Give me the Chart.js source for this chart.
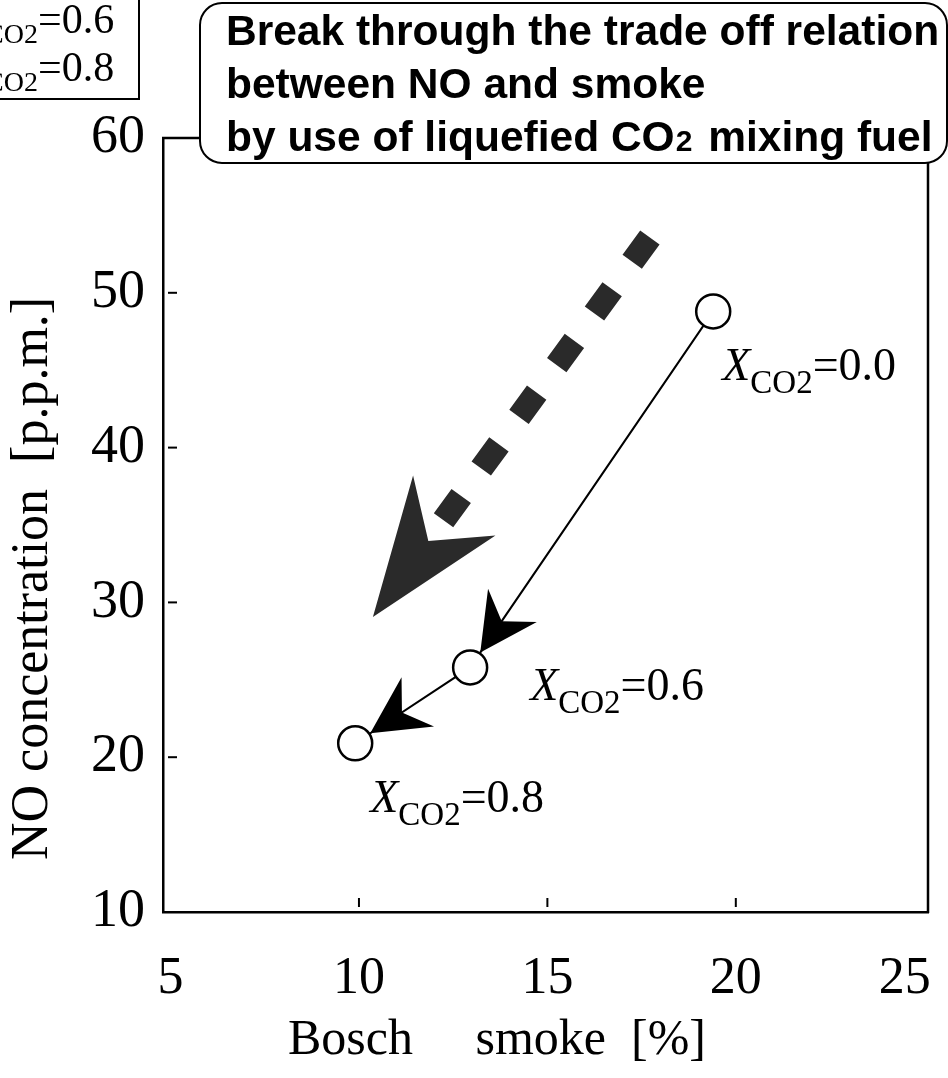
<!DOCTYPE html>
<html><head><meta charset="utf-8">
<script src="https://cdn.jsdelivr.net/npm/chart.js@4.4.1/dist/chart.umd.min.js"></script>
<style>html,body{margin:0;padding:0;background:#fff;overflow:hidden;}#wrap{width:948px;height:1078px;}</style>
</head><body><div id="wrap"><canvas id="c" width="948" height="1078"></canvas></div>
<script>
// ---- data ----
const xco2Values = ['0.0', '0.6', '0.8'];
const boschSmoke = [19.4, 12.95, 9.9];
const noConcentration = [48.8, 25.8, 20.9];
const xTickValues = [5, 10, 15, 20, 25];
const yTickValues = [10, 20, 30, 40, 50, 60];
const xInnerTicks = [10, 15, 20];
const yInnerTicks = [20, 30, 40, 50];
const legendValues = ['0.6', '0.8'];
const trendArrowFrom = [17.72, 53.57];
const trendArrowTo = [10.37, 29.06];
const calloutLine1 = 'Break through the trade off relation';
const calloutLine2 = 'between NO and smoke';
const calloutLine3a = 'by use of liquefied CO';
const calloutLine3b = '2';
const calloutLine3c = ' mixing fuel';
const xTitle = 'Bosch     smoke  [%]';
const yTitle = 'NO concentration  [p.p.m.]';

// ---- styles ----
const SERIF = '"Liberation Serif", "Times New Roman", serif';
const SANS = '"Liberation Sans", Arial, sans-serif';
const labelOffsets = [[9, 69], [60, 33], [15, 69]];
const xTitleIndent = '          ';
const yTitleIndent = '    ';

function xco2Text(ctx, x, y, val, big, small, dy) {
  ctx.textAlign = 'left'; ctx.textBaseline = 'alphabetic'; ctx.fillStyle = '#000';
  ctx.font = 'italic ' + big + 'px ' + SERIF; ctx.fillText('X', x, y);
  let w = ctx.measureText('X').width;
  ctx.font = small + 'px ' + SERIF; ctx.fillText('CO2', x + w, y + dy);
  w += ctx.measureText('CO2').width;
  ctx.font = big + 'px ' + SERIF; ctx.fillText('=' + val, x + w, y);
}
function xco2Width(ctx, big, small) {
  ctx.font = 'italic ' + big + 'px ' + SERIF; let w = ctx.measureText('X').width;
  ctx.font = small + 'px ' + SERIF; w += ctx.measureText('CO2').width; return w;
}
function arrowHead(ctx, tx, ty, ux, uy, len, half, notch) {
  const nx = -uy, ny = ux;
  const bx = tx - ux * len, by = ty - uy * len;
  ctx.beginPath();
  ctx.moveTo(tx, ty);
  ctx.lineTo(bx + nx * half, by + ny * half);
  ctx.lineTo(tx - ux * notch, ty - uy * notch);
  ctx.lineTo(bx - nx * half, by - ny * half);
  ctx.closePath(); ctx.fill();
}

const decor = {
  id: 'decor',
  beforeDatasetsDraw(chart) {
    const ctx = chart.ctx, a = chart.chartArea, xs = chart.scales.x, ys = chart.scales.y;
    ctx.save();
    ctx.strokeStyle = '#000'; ctx.lineWidth = 2.5; ctx.lineCap = 'butt';
    ctx.beginPath();
    ctx.moveTo(a.left - 1, a.top); ctx.lineTo(a.right, a.top); ctx.lineTo(a.right, a.bottom + 1);
    ctx.stroke();
    ctx.lineWidth = 2;
    yInnerTicks.forEach(v => { const p = ys.getPixelForValue(v); ctx.beginPath(); ctx.moveTo(a.left + 5, p); ctx.lineTo(a.left + 14, p); ctx.stroke(); });
    xInnerTicks.forEach(v => { const p = xs.getPixelForValue(v); ctx.beginPath(); ctx.moveTo(p, a.bottom - 5); ctx.lineTo(p, a.bottom - 14); ctx.stroke(); });
    // big dashed trend arrow
    const sx = xs.getPixelForValue(trendArrowFrom[0]), sy = ys.getPixelForValue(trendArrowFrom[1]);
    const tx = xs.getPixelForValue(trendArrowTo[0]), ty = ys.getPixelForValue(trendArrowTo[1]);
    const L = Math.hypot(tx - sx, ty - sy), ux = (tx - sx) / L, uy = (ty - sy) / L;
    ctx.strokeStyle = '#2a2a2a'; ctx.fillStyle = '#2a2a2a';
    ctx.lineWidth = 24; ctx.setLineDash([30, 34]);
    ctx.beginPath(); ctx.moveTo(sx, sy); ctx.lineTo(sx + ux * 352, sy + uy * 352); ctx.stroke();
    ctx.setLineDash([]);
    arrowHead(ctx, tx, ty, ux, uy, 138, 51, 94);
    ctx.restore();
  },
  afterDatasetsDraw(chart) {
    const ctx = chart.ctx, pts = chart.getDatasetMeta(0).data;
    ctx.save(); ctx.fillStyle = '#000';
    for (let i = 0; i < pts.length - 1; i++) {
      const p0 = pts[i], p1 = pts[i + 1];
      const L = Math.hypot(p1.x - p0.x, p1.y - p0.y), ux = (p1.x - p0.x) / L, uy = (p1.y - p0.y) / L;
      const r = 18;
      arrowHead(ctx, p1.x - ux * r, p1.y - uy * r, ux, uy, 57, 29.5, 38);
    }
    pts.forEach((p, i) => xco2Text(ctx, p.x + labelOffsets[i][0], p.y + labelOffsets[i][1], xco2Values[i], 46, 33, 13));
    ctx.restore();
  },
  afterDraw(chart) {
    const ctx = chart.ctx;
    ctx.save();
    // legend box (cut off at top-left)
    ctx.fillStyle = '#fff'; ctx.strokeStyle = '#000'; ctx.lineWidth = 2;
    ctx.fillRect(-10, -10, 149, 109); ctx.strokeRect(-10, -10, 149, 109);
    legendValues.forEach((v, i) => {
      const w = xco2Width(ctx, 42, 28);
      xco2Text(ctx, 38 - w, 33 + i * 48, v, 42, 28, 10);
    });
    // callout box
    ctx.beginPath();
    ctx.roundRect(200, 3, 747, 160, 22);
    ctx.fillStyle = '#fff'; ctx.fill(); ctx.lineWidth = 2; ctx.strokeStyle = '#000'; ctx.stroke();
    ctx.fillStyle = '#000'; ctx.textAlign = 'left'; ctx.textBaseline = 'alphabetic';
    const F = 42.5, x0 = 226;
    ctx.font = 'bold ' + F + 'px ' + SANS;
    ctx.fillText(calloutLine1, x0, 45);
    ctx.fillText(calloutLine2, x0, 98);
    ctx.fillText(calloutLine3a, x0, 151);
    let w = ctx.measureText(calloutLine3a).width;
    ctx.font = 'bold ' + Math.round(F * 0.7) + 'px ' + SANS;
    ctx.fillText(calloutLine3b, x0 + w + 1, 151);
    w += ctx.measureText(calloutLine3b).width + 5;
    ctx.font = 'bold ' + F + 'px ' + SANS;
    ctx.fillText(calloutLine3c, x0 + w, 151);
    ctx.restore();
  }
};

new Chart(document.getElementById('c'), {
  type: 'scatter',
  data: {
    datasets: [{
      data: boschSmoke.map((x, i) => ({ x: x, y: noConcentration[i] })),
      showLine: true, borderColor: '#000', borderWidth: 2,
      pointRadius: 17, pointHoverRadius: 17,
      pointBackgroundColor: '#fff', pointBorderColor: '#000', pointBorderWidth: 2.5
    }]
  },
  options: {
    responsive: false, animation: false, devicePixelRatio: 1, events: [],
    layout: { autoPadding: false, padding: { top: 138, right: 20, left: 0, bottom: 0 } },
    plugins: { legend: { display: false }, tooltip: { enabled: false } },
    scales: {
      x: {
        type: 'linear', min: 4.8, max: 25.1,
        afterBuildTicks: s => { s.ticks = xTickValues.map(v => ({ value: v })); },
        afterFit: s => { s.height = 166; s.paddingLeft = 0; s.paddingRight = 0; },
        grid: { display: false, drawTicks: false },
        border: { display: true, color: '#000', width: 2.5 },
        ticks: {
          color: '#000', font: { family: SERIF, size: 52 }, padding: 36, maxRotation: 0, autoSkip: false,
          callback: v => (v === xTickValues[xTickValues.length - 1] ? String(v) + '   ' : String(v))
        },
        title: { display: true, text: xTitleIndent + xTitle, align: 'start', color: '#000', font: { family: SERIF, size: 50 }, padding: { top: 0, bottom: 7 } }
      },
      y: {
        type: 'linear', min: 10, max: 60,
        afterBuildTicks: s => { s.ticks = yTickValues.map(v => ({ value: v })); },
        afterFit: s => { s.width = 163; s.paddingTop = 0; s.paddingBottom = 0; },
        grid: { display: false, drawTicks: false },
        border: { display: true, color: '#000', width: 2.5 },
        ticks: { color: '#000', font: { family: SERIF, size: 54 }, padding: 18, autoSkip: false },
        title: { display: true, text: yTitleIndent + yTitle, align: 'start', color: '#000', font: { family: SERIF, size: 52 }, padding: { top: 2, bottom: 0 } }
      }
    }
  },
  plugins: [decor]
});
</script></body></html>
